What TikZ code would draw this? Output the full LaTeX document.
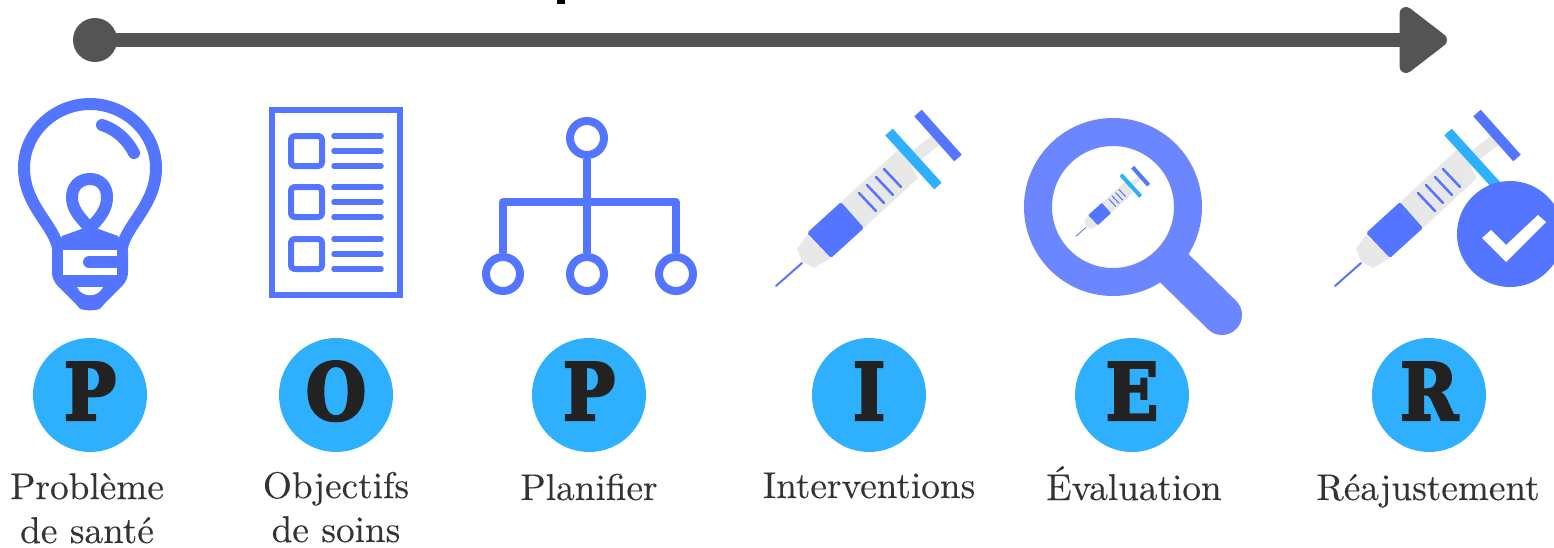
\documentclass[tikz,border=0pt]{standalone}
\usepackage{fontspec}
\usepackage{tikz}
\usetikzlibrary{positioning, calc, arrows.meta}
\setmainfont[FakeBold=0.25]{Latin Modern Roman}
\newfontfamily\slabfont[FakeStretch=0.88,FakeBold=3]{DejaVu Serif Bold}
\definecolor{iconblue}{HTML}{5475FF}
\definecolor{lensblue}{HTML}{6B86FF}
\definecolor{skyblue}{HTML}{2EB0FF}
\definecolor{barrelgray}{HTML}{E8E8E8}
\definecolor{arrowgray}{HTML}{545454}
\definecolor{inkgray}{HTML}{333333}
\definecolor{letterblack}{HTML}{222222}
\tikzset{
    pics/syringe/.style={code={
        \fill[barrelgray] (-62,40)--(-38,63)--(-55,73)--(-67,66)--(-72,54)--cycle;
        \fill[barrelgray] (-28,7)--(-5,33)--(49,-17)--(31,-47)--cycle;
        \draw[barrelgray, line width=#1*1.2mm] (35,-30)--(67,-55);
        \fill[iconblue, rounded corners=#1*0.5] (-28,7)--(-5,33)--(-38,63)--(-62,38)--cycle;
        \draw[iconblue, line width=#1*0.2mm, line cap=round] (-93,91)--(-67,68);
        \draw[skyblue, line width=#1*1mm] (20,-63)--(69,-9);
        \draw[iconblue, line width=#1*1mm] (49,-82)--(89,-37);
        \foreach \tx/\ty in {-10/-2,-2/-10,7/-18,15/-26}
            \draw[iconblue, line width=#1*0.25mm, line cap=round] (\tx,\ty)--++(17,18);
    }}
}

\begin{document}
\begin{tikzpicture}
    [x=0.1mm, y=-0.1mm,
    lettercircle/.style={circle, fill=skyblue, text=letterblack, minimum size=11.4mm, inner sep=0pt, text height=16.5pt, text depth=2.3pt, font=\slabfont\fontsize{22.5}{22.5}\selectfont},
    caption/.style={text=inkgray, align=center, anchor=base, font=\fontsize{10.6}{12.5}\selectfont},
    treecircle/.style={circle, draw=iconblue, line width=0.8mm, fill=white, minimum size=3.4mm, inner sep=0pt},
    icon/.style={draw=iconblue, line width=1.2mm, line cap=round, line join=round},
    listline/.style={draw=iconblue, line width=0.55mm, line cap=round},]

    \clip (0,0) rectangle (1554,548);

    %Timeline
    \node[circle, fill=arrowgray, minimum size=4.4mm, inner sep=0pt](start) at (95,40){};
    \coordinate(end) at (1447,40);
    \draw[arrowgray, line width=1.4mm, -{Triangle[length=5.2mm,width=7.6mm,round]}] (start.center)--(end);
    \fill[black] (557,0) rectangle (565,4);

    %Letters
    \node[lettercircle](P1) at (90,395){P};
    \node[lettercircle](O) at (336,395){O};
    \node[lettercircle](P2) at (589,395){P};
    \node[lettercircle](I) at (869,395){I};
    \node[lettercircle](E) at (1132,395){E};
    \node[lettercircle](R) at (1429,395){R};

    %Captions
    \node[caption](problem) at (87,543){Problème\\de santé};
    \node[caption](goals) at (336,542){Objectifs\\de soins};
    \node[caption](plan) at (589,500){Planifier};
    \node[caption](action) at (869,498){Interventions};
    \node[caption](review) at (1134,500){Évaluation};
    \node[caption](adjust) at (1428,500){Réajustement};

    %Bulb
    \fill[iconblue] (62,236)--(90,226)--(118,236)--(125,250)--(55,250)--cycle;
    \draw[icon] (58,248) .. controls (54,225) and (24,205) .. (24,168) .. controls (24,132) and (55,104) .. (90,104) .. controls (125,104) and (156,132) .. (156,168) .. controls (156,205) and (126,225) .. (122,248);
    \draw[icon] (90,228) .. controls (78,216) and (72,208) .. (72,197) .. controls (72,186) and (80,179) .. (90,179) .. controls (100,179) and (107,186) .. (107,197) .. controls (107,208) and (102,216) .. (90,228);
    \draw[icon] (102,125) .. controls (115,129) and (127,139) .. (134,153);
    \fill[iconblue, rounded corners=2] (52,245)--(128,245)--(128,280)--(105,303)..controls (98,311) and (82,311)..(75,303)--(52,280)--cycle;
    \fill[white] (63,250) rectangle (117,275);
    \draw[icon] (89,262)--(120,262);
    \fill[white] (77,287)--(103,287)..controls (98,298) and (82,298)..(77,287)--cycle;

    %List
    \draw[icon, line width=0.6mm, line cap=butt, line join=miter] (272,110) rectangle (400,295);
    \foreach \boxtop in {136,187,239}{
        \draw[icon, line width=0.6mm, rounded corners=1] (291,\boxtop) rectangle ++(31,30);
        \foreach \rowy in {0,15,30}
            \draw[listline] (334,\boxtop+\rowy)--(381,\boxtop+\rowy);
    }

    %Tree
    \node[treecircle](root) at (587,138){};
    \node[treecircle](leaf1) at (503,274){};
    \node[treecircle](leaf2) at (587,274){};
    \node[treecircle](leaf3) at (676,274){};
    \coordinate(corner1) at (503,202);
    \coordinate(corner3) at (676,202);
    \draw[iconblue, line width=0.75mm] (root)--(leaf2);
    \draw[iconblue, line width=0.75mm, line join=round] (leaf1)--(corner1)--(corner3)--(leaf3);

    %Syringe
    \pic at (869,195) {syringe=1};

    %Magnifier
    \draw[lensblue, line width=4mm, line cap=round] (1170,264)--(1222,315);
    \draw[lensblue, line width=2.8mm, fill=white] (1113,207) circle (75);
    \pic[scale=0.4] at (1113,200) {syringe=0.4};

    %Checked syringe
    \pic at (1428,195) {syringe=1};
    \fill[iconblue] (1510,234) circle (53);
    \fill[white] (1482,238)--(1491,230)--(1506,245)--(1538,215)--(1546,222)--(1506,262)--cycle;
\end{tikzpicture}
\end{document}
